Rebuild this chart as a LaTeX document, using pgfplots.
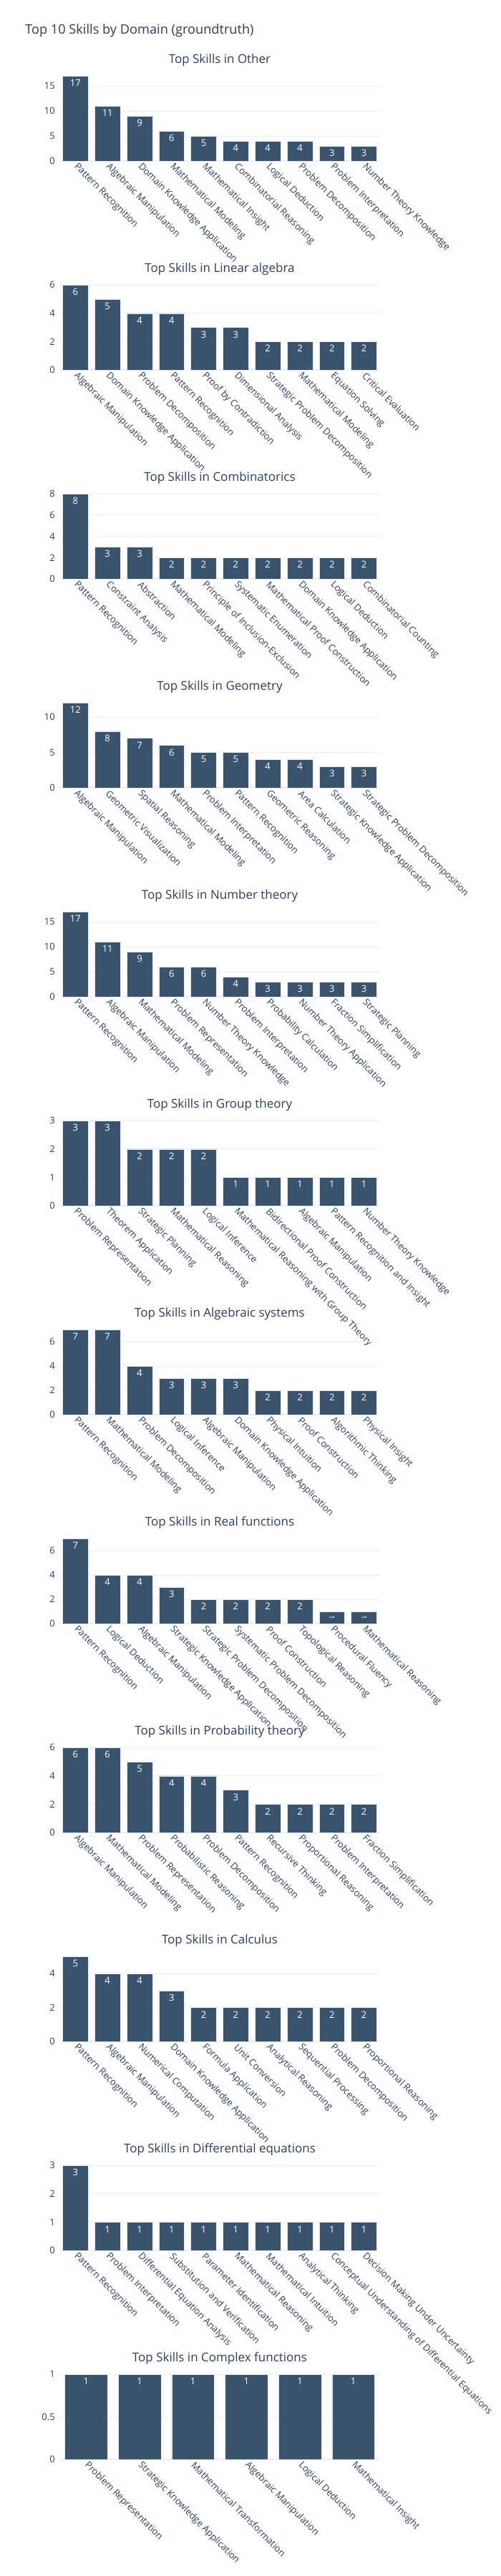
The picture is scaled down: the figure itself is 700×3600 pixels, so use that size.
\documentclass[border=0pt]{standalone}
\usepackage{fontspec}
\setmainfont{Open Sans}
\usepackage{pgfplots}
\pgfplotsset{compat=1.18}
\definecolor{barc}{RGB}{58,84,110}
\definecolor{barline}{HTML}{E5ECF6}
\definecolor{txt}{HTML}{2A3F5F}
\definecolor{gridc}{HTML}{EBF0F8}
\newcommand{\tickfont}{\fontsize{13bp}{15.5bp}\selectfont}
\newcommand{\titlefont}{\fontsize{17bp}{20bp}\selectfont}
\newcommand{\mainfont}{\fontsize{18.2bp}{22bp}\selectfont}
\pgfplotsset{
  panel/.style={
    scale only axis, width=448bp, height=125bp, anchor=north west,
    ybar, bar width=35.84bp,
    xmin=-0.5, xmax=9.5, ymin=0, xtick={0,...,9},
    axis x line*=bottom, axis y line*=left,
    axis line style={draw=none}, major tick length=0pt, tick style={draw=none},
    ymajorgrids, grid style={draw=gridc, line width=1bp},
    extra y ticks={0}, extra y tick labels={},
    extra y tick style={grid style={draw=gridc, line width=2bp}},
    tick label style={font=\tickfont, text=txt},
    /pgf/number format/assume math mode=true,
    xticklabel style={rotate=-45, anchor=west, inner sep=0pt},
    xticklabel shift=6bp,
    yticklabel style={anchor=east, inner sep=0pt},
    yticklabel shift=6bp,
    title style={font=\titlefont, text=txt, at={(0.5,1)}, anchor=base, inner sep=0pt, yshift=5.5bp},
    nodes near coords,
    every node near coord/.append style={font=\tickfont, text=white, inner sep=0pt, yshift=-14.8bp},
    clip=false,
  },
  bars/.style={fill=barc, draw=barline, line width=0.5bp, bar shift=0pt},
}
\begin{document}
\begin{tikzpicture}
\path[use as bounding box] (0,0) rectangle (700bp,-3600bp);
\node[anchor=west, inner sep=0pt, font=\mainfont, text=txt] at (35bp,-43bp) {Top 10 Skills by Domain (groundtruth)};

% 1 Other
\begin{axis}[panel, at={(83bp,-100bp)}, title={Top Skills in Other},
  ymax=17.895, ytick={0,5,10,15},
  xticklabels={Pattern Recognition, Algebraic Manipulation, Domain Knowledge Application, Mathematical Modeling, Mathematical Insight, Combinatorial Reasoning, Logical Deduction, Problem Decomposition, Problem Interpretation, Number Theory Knowledge}]
\addplot[bars] coordinates {(0,17) (1,11) (2,9) (3,6) (4,5) (5,4) (6,4) (7,4) (8,3) (9,3)};
\end{axis}

% 2 Linear algebra
\begin{axis}[panel, at={(83bp,-392bp)}, title={Top Skills in Linear algebra},
  ymax=6.316, ytick={0,2,4,6},
  xticklabels={Algebraic Manipulation, Domain Knowledge Application, Problem Decomposition, Pattern Recognition, Proof by Contradiction, Dimensional Analysis, Strategic Problem Decomposition, Mathematical Modeling, Equation Solving, Critical Evaluation}]
\addplot[bars] coordinates {(0,6) (1,5) (2,4) (3,4) (4,3) (5,3) (6,2) (7,2) (8,2) (9,2)};
\end{axis}

% 3 Combinatorics
\begin{axis}[panel, at={(83bp,-684bp)}, title={Top Skills in Combinatorics},
  ymax=8.421, ytick={0,2,4,6,8},
  xticklabels={Pattern Recognition, Constraint Analysis, Abstraction, Mathematical Modeling, Principle of Inclusion-Exclusion, Systematic Enumeration, Mathematical Proof Construction, Domain Knowledge Application, Logical Deduction, Combinatorial Counting}]
\addplot[bars] coordinates {(0,8) (1,3) (2,3) (3,2) (4,2) (5,2) (6,2) (7,2) (8,2) (9,2)};
\end{axis}

% 4 Geometry
\begin{axis}[panel, at={(83bp,-976bp)}, title={Top Skills in Geometry},
  ymax=12.632, ytick={0,5,10},
  xticklabels={Algebraic Manipulation, Geometric Visualization, Spatial Reasoning, Mathematical Modeling, Problem Interpretation, Pattern Recognition, Geometric Reasoning, Area Calculation, Strategic Knowledge Application, Strategic Problem Decomposition}]
\addplot[bars] coordinates {(0,12) (1,8) (2,7) (3,6) (4,5) (5,5) (6,4) (7,4) (8,3) (9,3)};
\end{axis}

% 5 Number theory
\begin{axis}[panel, at={(83bp,-1268bp)}, title={Top Skills in Number theory},
  ymax=17.895, ytick={0,5,10,15},
  xticklabels={Pattern Recognition, Algebraic Manipulation, Mathematical Modeling, Problem Representation, Number Theory Knowledge, Problem Interpretation, Probability Calculation, Number Theory Application, Fraction Simplification, Strategic Planning}]
\addplot[bars] coordinates {(0,17) (1,11) (2,9) (3,6) (4,6) (5,4) (6,3) (7,3) (8,3) (9,3)};
\end{axis}

% 6 Group theory
\begin{axis}[panel, at={(83bp,-1560bp)}, title={Top Skills in Group theory},
  ymax=3.158, ytick={0,1,2,3},
  xticklabels={Problem Representation, Theorem Application, Strategic Planning, Mathematical Reasoning, Logical Inference, Mathematical Reasoning with Group Theory, Bidirectional Proof Construction, Algebraic Manipulation, Pattern Recognition and Insight, Number Theory Knowledge}]
\addplot[bars] coordinates {(0,3) (1,3) (2,2) (3,2) (4,2) (5,1) (6,1) (7,1) (8,1) (9,1)};
\end{axis}

% 7 Algebraic systems
\begin{axis}[panel, at={(83bp,-1852bp)}, title={Top Skills in Algebraic systems},
  ymax=7.368, ytick={0,2,4,6},
  xticklabels={Pattern Recognition, Mathematical Modeling, Problem Decomposition, Logical Inference, Algebraic Manipulation, Domain Knowledge Application, Physical Intuition, Proof Construction, Algorithmic Thinking, Physical Insight}]
\addplot[bars] coordinates {(0,7) (1,7) (2,4) (3,3) (4,3) (5,3) (6,2) (7,2) (8,2) (9,2)};
\end{axis}

% 8 Real functions
\begin{axis}[panel, at={(83bp,-2144bp)}, title={Top Skills in Real functions},
  ymax=7.368, ytick={0,2,4,6},
  xticklabels={Pattern Recognition, Logical Deduction, Algebraic Manipulation, Strategic Knowledge Application, Strategic Problem Decomposition, Systematic Problem Decomposition, Proof Construction, Topological Reasoning, Procedural Fluency, Mathematical Reasoning}]
\addplot[bars] coordinates {(0,7) (1,4) (2,4) (3,3) (4,2) (5,2) (6,2) (7,2)};
\addplot[bars, nodes near coords={\rotatebox{-90}{\pgfmathprintnumber\pgfplotspointmeta}},
  every node near coord/.append style={font=\fontsize{10bp}{12bp}\selectfont, yshift=3.3bp}]
  coordinates {(8,1) (9,1)};
\end{axis}

% 9 Probability theory
\begin{axis}[panel, at={(83bp,-2436bp)}, title={Top Skills in Probability theory},
  ymax=6.316, ytick={0,2,4,6},
  xticklabels={Algebraic Manipulation, Mathematical Modeling, Problem Representation, Probabilistic Reasoning, Problem Decomposition, Pattern Recognition, Recursive Thinking, Proportional Reasoning, Problem Interpretation, Fraction Simplification}]
\addplot[bars] coordinates {(0,6) (1,6) (2,5) (3,4) (4,4) (5,3) (6,2) (7,2) (8,2) (9,2)};
\end{axis}

% 10 Calculus
\begin{axis}[panel, at={(83bp,-2728bp)}, title={Top Skills in Calculus},
  ymax=5.263, ytick={0,2,4},
  xticklabels={Pattern Recognition, Algebraic Manipulation, Numerical Computation, Domain Knowledge Application, Formula Application, Unit Conversion, Analytical Reasoning, Sequential Processing, Problem Decomposition, Proportional Reasoning}]
\addplot[bars] coordinates {(0,5) (1,4) (2,4) (3,3) (4,2) (5,2) (6,2) (7,2) (8,2) (9,2)};
\end{axis}

% 11 Differential equations
\begin{axis}[panel, at={(83bp,-3020bp)}, title={Top Skills in Differential equations},
  ymax=3.158, ytick={0,1,2,3},
  xticklabels={Pattern Recognition, Problem Interpretation, Differential Equation Analysis, Substitution and Verification, Parameter Identification, Mathematical Reasoning, Mathematical Intuition, Analytical Thinking, Conceptual Understanding of Differential Equations, Decision Making Under Uncertainty}]
\addplot[bars] coordinates {(0,3) (1,1) (2,1) (3,1) (4,1) (5,1) (6,1) (7,1) (8,1) (9,1)};
\end{axis}

% 12 Complex functions
\begin{axis}[panel, at={(83bp,-3312bp)}, title={Top Skills in Complex functions},
  xmin=-0.5, xmax=5.5, xtick={0,...,5}, bar width=59.73bp,
  ymax=1.0526, ytick={0,0.5,1},
  xticklabels={Problem Representation, Strategic Knowledge Application, Mathematical Transformation, Algebraic Manipulation, Logical Deduction, Mathematical Insight}]
\addplot[bars] coordinates {(0,1) (1,1) (2,1) (3,1) (4,1) (5,1)};
\end{axis}
\end{tikzpicture}
\end{document}
